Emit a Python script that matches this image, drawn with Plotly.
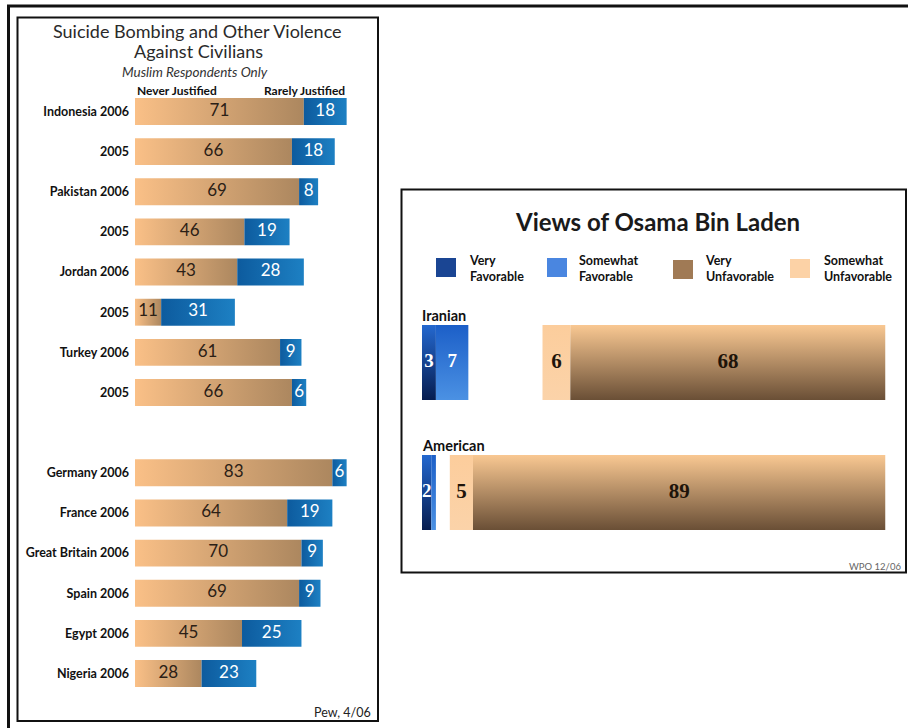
import plotly.graph_objects as go

W, H = 908, 728

# ---------------- Left chart data ----------------
left_labels = ["Indonesia 2006", "2005", "Pakistan 2006", "2005", "Jordan 2006", "2005",
               "Turkey 2006", "2005", "Germany 2006", "France 2006", "Great Britain 2006",
               "Spain 2006", "Egypt 2006", "Nigeria 2006"]
left_slots = [0, 1, 2, 3, 4, 5, 6, 7, 9, 10, 11, 12, 13, 14]
never_justified = [71, 66, 69, 46, 43, 11, 61, 66, 83, 64, 70, 69, 45, 28]
rarely_justified = [18, 18, 8, 19, 28, 31, 9, 6, 6, 19, 9, 9, 25, 23]

# ---------------- Right chart data ----------------
groups = ["Iranian", "American"]
very_favorable = [3, 2]
somewhat_favorable = [7, 1]
somewhat_unfavorable = [6, 5]
very_unfavorable = [68, 89]
legend_names = ["Very<br>Favorable", "Somewhat<br>Favorable", "Very<br>Unfavorable", "Somewhat<br>Unfavorable"]


def fx(p):
    return p / W


def fy(p):
    return 1 - p / H


fig = go.Figure()

# ---- left bars (gradient filled rectangles on the data axes) ----
LBW = 0.335  # half bar thickness
BROWN = [[0, "#fac087"], [1, "#ac875f"]]
BLUE = [[0, "#0d5b9e"], [1, "#1d80c3"]]


def rect(x0, x1, yc, hw, grad, xa="x", ya="y", gtype="horizontal"):
    return go.Scatter(
        x=[x0, x1, x1, x0, x0], y=[yc - hw, yc - hw, yc + hw, yc + hw, yc - hw],
        mode="lines", line=dict(width=0), fill="toself",
        fillgradient=dict(type=gtype, colorscale=grad),
        xaxis=xa, yaxis=ya, hoverinfo="skip", showlegend=False)


for s, nv, rv in zip(left_slots, never_justified, rarely_justified):
    fig.add_trace(rect(0, nv, s, LBW, BROWN))
    fig.add_trace(rect(nv, nv + rv, s, LBW, BLUE))

fig.add_trace(go.Scatter(
    x=[v / 2 for v in never_justified], y=left_slots, mode="text",
    text=[str(v) for v in never_justified],
    textfont=dict(family="Lato", size=17, color="#2b2016"),
    xaxis="x", yaxis="y", hoverinfo="skip", showlegend=False))
fig.add_trace(go.Scatter(
    x=[n + r / 2 for n, r in zip(never_justified, rarely_justified)], y=left_slots, mode="text",
    text=[str(v) for v in rarely_justified],
    textfont=dict(family="Lato", size=17, color="#ffffff"),
    xaxis="x", yaxis="y", hoverinfo="skip", showlegend=False))

# ---- right bars ----
RBW = 0.288
VF = [[0, "#061d50"], [1, "#2468cf"]]
SF = [[0, "#4b91e3"], [1, "#1c5fc8"]]
SU = [[0, "#fbd3a9"], [1, "#fccd9c"]]
VU = [[0, "#6a4f36"], [1, "#f9c892"]]

n = len(groups)
ypos = [n - 1 - i for i in range(n)]
for i in range(n):
    yc = ypos[i]
    vf, sf = very_favorable[i], somewhat_favorable[i]
    su, vu = somewhat_unfavorable[i], very_unfavorable[i]
    base = 100 - (su + vu)
    fig.add_trace(rect(0, vf, yc, RBW, VF, "x2", "y2", "vertical"))
    if sf > 0:
        fig.add_trace(rect(vf, vf + sf, yc, RBW, SF, "x2", "y2", "vertical"))
    fig.add_trace(rect(base, base + su, yc, RBW, SU, "x2", "y2", "vertical"))
    fig.add_trace(rect(base + su, 100, yc, RBW, VU, "x2", "y2", "vertical"))

# labels on right bars
wx, wy, wt = [], [], []
dx, dy, dt = [], [], []
for i in range(n):
    yc = ypos[i]
    vf, sf = very_favorable[i], somewhat_favorable[i]
    su, vu = somewhat_unfavorable[i], very_unfavorable[i]
    base = 100 - (su + vu)
    if vf >= 2:
        wx.append(vf / 2); wy.append(yc); wt.append(str(vf))
    if sf >= 2:
        wx.append(vf + sf / 2); wy.append(yc); wt.append(str(sf))
    dx.append(base + su / 2); dy.append(yc); dt.append(str(su))
    dx.append(base + su + vu / 2); dy.append(yc); dt.append(str(vu))

fig.add_trace(go.Scatter(x=wx, y=wy, text=wt, mode="text",
                         textfont=dict(family="Liberation Serif", size=19, color="#ffffff", weight="bold"),
                         xaxis="x2", yaxis="y2", hoverinfo="skip", showlegend=False))
fig.add_trace(go.Scatter(x=dx, y=dy, text=dt, mode="text",
                         textfont=dict(family="Liberation Serif", size=21, color="#1e140a", weight="bold"),
                         xaxis="x2", yaxis="y2", hoverinfo="skip", showlegend=False))

annotations = []
for i in range(n):
    annotations.append(dict(xref="x2", yref="y2", x=0, y=ypos[i] + RBW, xanchor="left", yanchor="bottom",
                            text=groups[i], showarrow=False, xshift=-2, yshift=-1,
                            font=dict(family="Lato", size=14.5, color="#111111", weight="bold")))


def pann(x, y, text, font, xanchor="center", yanchor="middle", **kw):
    d = dict(xref="paper", yref="paper", x=fx(x), y=fy(y), text=text, showarrow=False, font=font,
             xanchor=xanchor, yanchor=yanchor)
    d.update(kw)
    return d


# ---- text annotations (titles, headers, sources) ----
annotations += [
    pann(197, 31, "Suicide Bombing and Other Violence", dict(family="Lato", size=18, color="#2a2a2a")),
    pann(198, 51, "Against Civilians", dict(family="Lato", size=18, color="#2a2a2a")),
    pann(195, 72, "<i>Muslim Respondents Only</i>", dict(family="Lato", size=13.5, color="#333333")),
    pann(135, 90, "Never Justified", dict(family="Lato", size=12, color="#111111", weight="bold"),
         xanchor="left"),
    pann(347, 90, "Rarely Justified", dict(family="Lato", size=12, color="#111111", weight="bold"),
         xanchor="right"),
    pann(373, 712, "Pew, 4/06", dict(family="Lato", size=12.5, color="#222222"), xanchor="right"),
    pann(657, 221, "Views of Osama Bin Laden", dict(family="Lato", size=24, color="#1a1a1a", weight="bold")),
    pann(903, 566, "WPO 12/06", dict(family="Lato", size=9.5, color="#666666"), xanchor="right"),
]

# legend (swatches + labels)
sw = [(436, 258, "#1a4593"), (547, 258, "#4a86e0"), (673, 260, "#a07a55"), (790, 259, "#fcd2a6")]
lab_x = [467, 577, 703, 822]
shapes = []
for (x0, y0, c), lx, name in zip(sw, lab_x, legend_names):
    shapes.append(dict(type="rect", xref="paper", yref="paper", x0=fx(x0), x1=fx(x0 + 20),
                       y0=fy(y0), y1=fy(y0 + 19), fillcolor=c, line=dict(width=0)))
    annotations.append(pann(lx, 268, name, dict(family="Lato", size=12.5, color="#111111", weight="bold"),
                            xanchor="left", align="left"))

# frames
shapes += [
    dict(type="line", xref="paper", yref="paper", x0=fx(7), x1=fx(908), y0=fy(6), y1=fy(6),
         line=dict(color="#111111", width=3)),
    dict(type="line", xref="paper", yref="paper", x0=fx(8.5), x1=fx(8.5), y0=fy(5), y1=fy(728),
         line=dict(color="#111111", width=3)),
    dict(type="rect", xref="paper", yref="paper", x0=fx(17.5), x1=fx(378), y0=fy(17.5), y1=fy(721),
         line=dict(color="#111111", width=2)),
    dict(type="rect", xref="paper", yref="paper", x0=fx(401.5), x1=fx(906), y0=fy(189.5), y1=fy(572.5),
         line=dict(color="#111111", width=2)),
]

hidden = dict(showgrid=False, zeroline=False, showticklabels=False, showline=False, ticks="", fixedrange=True)

fig.update_layout(
    width=W, height=H, margin=dict(l=0, r=0, t=0, b=0),
    paper_bgcolor="white", plot_bgcolor="rgba(0,0,0,0)", showlegend=False,
    xaxis=dict(domain=[fx(135), fx(135 + 237.8)], range=[0, 100], **hidden),
    yaxis=dict(domain=[fy(693.6), fy(91.4)], range=[14.5, -0.5], showgrid=False, zeroline=False,
               showline=False, ticks="", tickmode="array", tickvals=left_slots, ticktext=left_labels,
               ticklabelstandoff=5,
               tickfont=dict(family="Lato", size=12.5, color="#111111", weight="bold"), fixedrange=True),
    xaxis2=dict(domain=[fx(422), fx(885.5)], range=[0, 100], anchor="y2", **hidden),
    yaxis2=dict(domain=[fy(557.5), fy(297.5)], range=[-0.5, n - 0.5], anchor="x2", **hidden),
    shapes=shapes, annotations=annotations,
)

fig.write_html("out.html", config={"displayModeBar": False},
               post_script="document.body.style.margin='0';document.body.style.padding='0';")
